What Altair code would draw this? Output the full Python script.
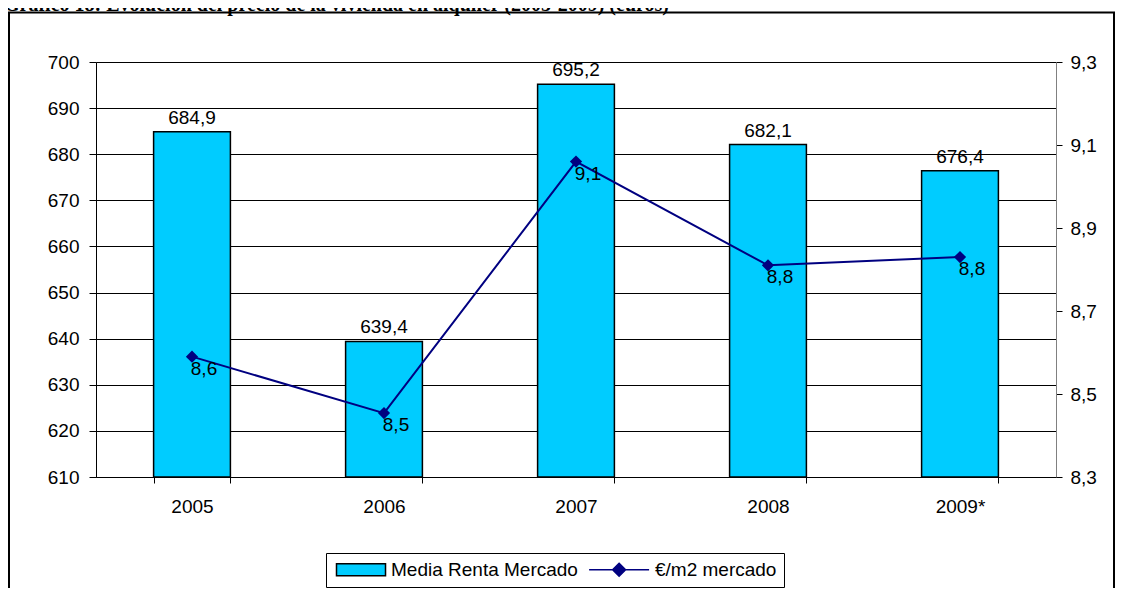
import altair as alt
import pandas as pd

years = ["2005", "2006", "2007", "2008", "2009*"]
renta = [684.9, 639.4, 695.2, 682.1, 676.4]
precio_m2 = [8.59, 8.454, 9.06, 8.81, 8.83]
left_ticks = [610, 620, 630, 640, 650, 660, 670, 680, 690, 700]
right_ticks = [8.3, 8.5, 8.7, 8.9, 9.1, 9.3]
series = ["Media Renta Mercado", "€/m2 mercado"]
title_text = "Gráfico 18: Evolución del precio de la vivienda en alquiler (2005-2009) (euros)"

df = pd.DataFrame({"year": years, "renta": renta, "m2": precio_m2})

W, H = 960, 415
FONT = "Liberation Sans"
BAR = "#00CCFF"
NAVY = "#000080"

x_enc = alt.X(
    "year:N", sort=years, title=None,
    scale=alt.Scale(paddingInner=0.6, paddingOuter=0.3),
    axis=alt.Axis(labelAngle=0, tickBand="extent", tickSize=6, tickColor="black",
                  domainColor="black", labelFontSize=19, labelColor="black",
                  labelPadding=14, labelFont=FONT, zindex=1),
)

y_left = alt.Y(
    "renta:Q", title=None,
    scale=alt.Scale(domain=[610, 700], nice=False, zero=False),
    axis=alt.Axis(values=left_ticks, tickSize=7, labelPadding=10, labelFontSize=19,
                  labelColor="black", labelFont=FONT, tickColor="black",
                  domainColor="black", grid=True, gridColor="black", gridWidth=1,
                  gridOpacity=1),
)

y_right = alt.Y(
    "m2:Q", title=None,
    scale=alt.Scale(domain=[8.3, 9.3], nice=False, zero=False),
    axis=alt.Axis(orient="right", values=right_ticks, tickSize=6, labelPadding=8,
                  labelFontSize=19, labelColor="black", labelFont=FONT,
                  tickColor="black", domainColor="#808080", grid=False,
                  labelExpr="replace(format(datum.value, '.1f'), '.', ',')"),
)

base = alt.Chart(df)

bars = base.mark_bar(fill=BAR, stroke="black", strokeWidth=1.5).encode(
    x=x_enc, y=y_left, y2=alt.datum(610))

bar_labels = base.transform_calculate(
    lbl="replace(format(datum.renta, '.1f'), '.', ',')"
).mark_text(dy=-8, baseline="alphabetic", align="center", fontSize=19, font=FONT,
            color="black").encode(x=alt.X("year:N", sort=years), y="renta:Q", text="lbl:N")

rect_path = "M-1,-1 L7.17,-1 L7.17,1 L-1,1 Z"
line_path = "M-2.9,0 L7.1,0 M2.1,-1.08 L3.18,0 L2.1,1.08 L1.02,0 Z"

legend_layer = base.transform_calculate(
    serie="'Media Renta Mercado'"
).mark_point(size=0, filled=True, opacity=1).encode(
    x=alt.X("year:N", sort=years),
    y="renta:Q",
    fill=alt.Fill("serie:N", scale=alt.Scale(domain=series, range=[BAR, NAVY]),
                  legend=alt.Legend(orient="none", legendX=230, legendY=491,
                                    direction="horizontal", title=None,
                                    strokeColor="black", fillColor="white",
                                    padding=7, symbolSize=144, symbolStrokeWidth=1.5,
                                    labelOffset=39, columnPadding=8,
                                    labelFontSize=19, labelFont=FONT,
                                    labelColor="black", labelLimit=400)),
    stroke=alt.Stroke("serie:N", scale=alt.Scale(domain=series, range=["black", NAVY]),
                      legend=alt.Legend(orient="none", legendX=230, legendY=491,
                                        direction="horizontal", title=None)),
    shape=alt.Shape("serie:N", scale=alt.Scale(domain=series, range=[rect_path, line_path]),
                    legend=alt.Legend(orient="none", legendX=230, legendY=491,
                                      direction="horizontal", title=None)),
)

frame = alt.Chart(pd.DataFrame({"k": [0]})).mark_rect(
    fillOpacity=0, stroke="black", strokeWidth=2
).encode(x=alt.value(-87), x2=alt.value(W + 58), y=alt.value(-49.5), y2=alt.value(H + 300))

title = alt.Chart(pd.DataFrame({"t": [title_text]})).mark_text(
    align="left", baseline="alphabetic", font="Liberation Serif", fontWeight="bold",
    fontSize=20, color="black"
).encode(x=alt.value(-92), y=alt.value(-51), text="t:N")

left = alt.layer(bars, bar_labels, legend_layer, frame, title)

line = base.mark_line(color=NAVY, strokeWidth=2).encode(x=alt.X("year:N", sort=years), y=y_right)
points = base.mark_point(shape="diamond", size=150, filled=True, fill=NAVY, opacity=1).encode(
    x=alt.X("year:N", sort=years), y="m2:Q")
line_labels = base.transform_calculate(
    lbl="replace(format(datum.m2, '.1f'), '.', ',')"
).mark_text(dx=12, dy=12, baseline="middle", align="center", fontSize=19, font=FONT,
            color="black").encode(x=alt.X("year:N", sort=years), y="m2:Q", text="lbl:N")

right = alt.layer(line, points, line_labels)

chart = alt.layer(left, right).resolve_scale(y="independent").properties(
    width=W, height=H,
    autosize=alt.AutoSizeParams(type="none"),
    padding={"left": 88, "top": 54, "right": 59, "bottom": 111},
).configure_view(stroke=None).configure(font=FONT)

chart.save("out.html", embed_options={"renderer": "svg", "actions": False})
